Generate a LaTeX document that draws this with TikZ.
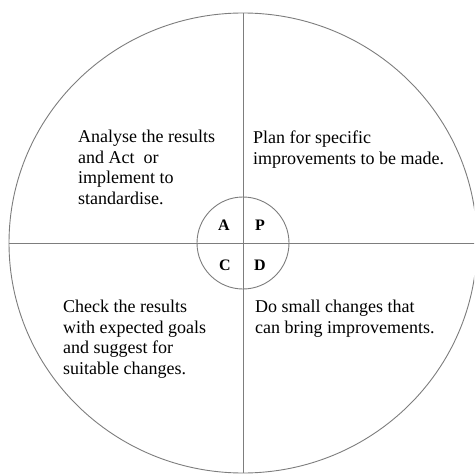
\documentclass[tikz,border=0pt]{standalone}
\usepackage{fontspec}
\setmainfont{Liberation Serif}
\usetikzlibrary{shapes.geometric}
\definecolor{wheel}{RGB}{125,125,125}

\begin{document}
\begin{tikzpicture}[x=1pt,y=-1pt,
  phase/.style={font=\fontsize{18}{20.6}\selectfont,align=left,anchor=north west,inner sep=0pt},
  letter/.style={font=\fontsize{16}{16}\selectfont\bfseries,inner sep=0pt},
  rim/.style={draw=wheel,line width=0.9pt,inner sep=0pt}]
  \useasboundingbox (0,0) rectangle (474,476);
  \clip (0,0) rectangle (474,476);
  % outer wheel and hub
  \node[ellipse,rim,minimum width=468pt,minimum height=460pt] (outer) at (243,243) {};
  \node[circle,rim,minimum size=92pt] (hub) at (243,243) {};
  \draw[wheel,line width=0.9pt] (outer.north) -- (outer.south);
  \draw[wheel,line width=0.9pt] (outer.west) -- (outer.east);
  % letters in the hub
  \node[letter] (a) at (224,225) {A};
  \node[letter] (p) at (260,225) {P};
  \node[letter] (c) at (225,265) {C};
  \node[letter] (d) at (260,265) {D};
  % the four quarters
  \node[phase] (act) at (78,130) {Analyse the results\\and Act\ \ or\\implement to\\standardise.};
  \node[phase] (plan) at (253,131) {Plan for specific\\improvements to be made.};
  \node[phase] (check) at (63,300) {Check the results\\with expected goals\\and suggest for\\suitable changes.};
  \node[phase] (do) at (255,300) {Do small changes that\\can bring improvements.};
\end{tikzpicture}
\end{document}
